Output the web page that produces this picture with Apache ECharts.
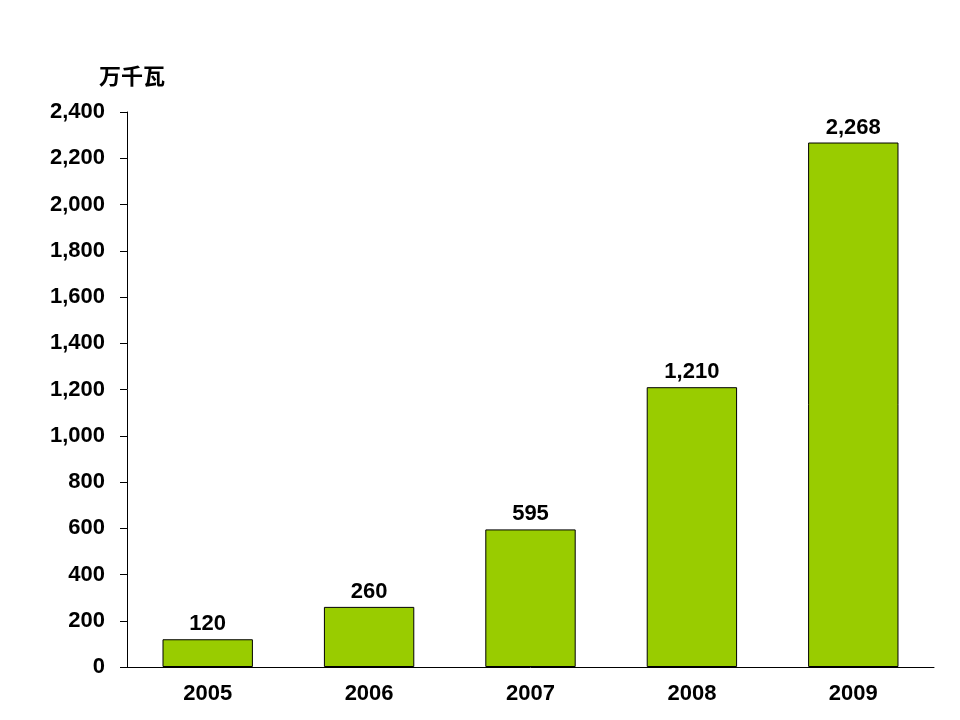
<!DOCTYPE html>
<html><head><meta charset="utf-8">
<script src="https://cdn.jsdelivr.net/npm/echarts@6/dist/echarts.min.js"></script>
<style>html,body{margin:0;padding:0;background:#fff}#c{width:960px;height:720px}</style>
</head><body><div id="c"></div>
<script>
const categories = ['2005','2006','2007','2008','2009'];
const values = [120, 260, 595, 1210, 2268];
const unitLabel = '万千瓦';

const chart = echarts.init(document.getElementById('c'));
const fmt = v => v.toLocaleString('en-US');
chart.setOption({
  animation: false,
  backgroundColor: '#ffffff',
  grid: {left: 127, right: 26, top: 112, bottom: 53, containLabel: false},
  title: {text: unitLabel, left: 94, top: 60, textStyle: {fontFamily: 'Noto Sans CJK SC', fontSize: 22, fontWeight: 'bold', color: '#000'}},
  xAxis: {
    type: 'category', data: categories,
    axisLine: {lineStyle: {color: '#000', width: 1}},
    axisTick: {show: false},
    axisLabel: {color: '#000', fontFamily: 'Liberation Sans, Arial', fontWeight: 'bold', fontSize: 22, margin: 16}
  },
  yAxis: {
    type: 'value', min: 0, max: 2400, interval: 200,
    axisLine: {show: true, lineStyle: {color: '#000', width: 1}},
    axisTick: {show: true, length: 7, lineStyle: {color: '#000'}},
    splitLine: {show: false},
    axisLabel: {color: '#000', fontFamily: 'Liberation Sans, Arial', fontWeight: 'bold', fontSize: 22, margin: 22, formatter: fmt}
  },
  series: [{
    type: 'bar', data: values, barWidth: '56%',
    itemStyle: {color: '#99CC00', borderColor: '#000', borderWidth: 1},
    label: {show: true, position: 'top', distance: 4, color: '#000', fontFamily: 'Liberation Sans, Arial', fontWeight: 'bold', fontSize: 22, formatter: p => fmt(p.value)}
  }]
});
</script></body></html>
